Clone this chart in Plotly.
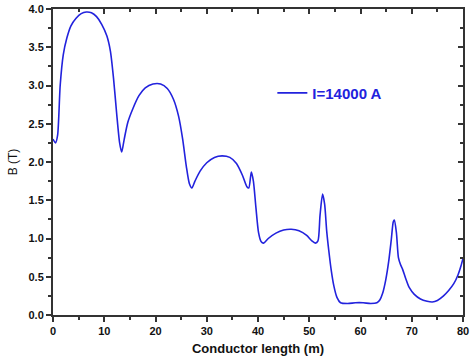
import plotly.graph_objects as go

length_m = [0, 0.5, 0.9, 1.4, 2.0, 2.7, 3.5, 4.5, 5.5, 6.5, 7.5, 8.5, 9.5, 10.5, 11.2, 11.8, 12.4, 13.0, 13.4, 13.9,
            14.6, 15.6, 16.8, 18.0, 19.5, 21.0, 22.3, 23.5, 24.5, 25.3, 26.0, 26.6, 27.1, 27.7, 28.7, 30.0, 31.5, 33.0,
            34.5, 35.8, 37.0, 37.8, 38.2, 38.7, 39.1, 39.6, 40.1, 40.6, 41.1, 42.0, 43.5, 45.0, 46.5, 48.0, 49.5, 50.5,
            51.2, 51.7, 52.1, 52.6, 53.0, 53.4, 53.8, 54.3, 54.8, 55.4, 56.1, 57.5, 59.0, 60.5, 62.0, 63.2, 63.8, 64.3,
            64.9, 65.5, 66.0, 66.4, 66.6, 67.0, 67.4, 67.8, 68.2, 68.8, 69.5, 70.5, 71.7, 73.0, 74.0, 75.0, 76.2, 77.2,
            78.2, 79.0, 79.6, 80.0]
b_tesla = [2.30, 2.25, 2.35, 3.00, 3.40, 3.62, 3.78, 3.88, 3.94, 3.96, 3.95, 3.90, 3.80, 3.65, 3.45, 3.10, 2.65, 2.25,
           2.13, 2.30, 2.52, 2.70, 2.87, 2.97, 3.02, 3.02, 2.96, 2.82, 2.60, 2.30, 1.95, 1.72, 1.66, 1.75, 1.88, 1.99,
           2.06, 2.08, 2.06, 1.98, 1.82, 1.68, 1.66, 1.87, 1.75, 1.40, 1.08, 0.96, 0.94, 1.00, 1.07, 1.11, 1.12, 1.10,
           1.04, 0.97, 0.94, 0.97, 1.30, 1.58, 1.45, 1.10, 0.85, 0.58, 0.38, 0.23, 0.16, 0.15, 0.16, 0.16, 0.15, 0.16,
           0.20, 0.28, 0.45, 0.70, 0.98, 1.22, 1.24, 1.08, 0.75, 0.66, 0.60, 0.48, 0.36, 0.27, 0.21, 0.18, 0.17, 0.19,
           0.25, 0.32, 0.41, 0.52, 0.64, 0.74]
series_name = "I=14000 A"

x_range = [0, 80]
y_range = [0, 4.0]

fig = go.Figure()
fig.add_trace(go.Scatter(x=length_m, y=b_tesla, mode="lines", name=series_name,
                         line=dict(color="#2222dd", width=1.6, shape="spline", smoothing=0.7)))
# invisible trace to hold the mirrored (top/right) axes
fig.add_trace(go.Scatter(x=x_range, y=y_range, xaxis="x2", yaxis="y2", mode="lines",
                         line=dict(width=0), showlegend=False, hoverinfo="skip"))

tickfont = dict(family="Arial", size=11, color="#111", weight="bold")
axcol = "#333"

fig.update_layout(
    width=471, height=360,
    margin=dict(l=53, r=8, t=9, b=45, autoexpand=False),
    paper_bgcolor="white", plot_bgcolor="white",
    showlegend=True,
    legend=dict(x=0.535, y=0.725, xanchor="left", yanchor="middle", bgcolor="rgba(0,0,0,0)",
                font=dict(family="Arial", size=15, color="#2222dd", weight="bold")),
    xaxis=dict(range=x_range, dtick=10, tick0=0, showgrid=False, zeroline=False, automargin=False,
               showline=True, linecolor=axcol, linewidth=2, ticks="outside", ticklen=5, tickwidth=2,
               tickcolor=axcol, tickfont=tickfont,
               minor=dict(ticks="outside", ticklen=3, tickwidth=1.5, dtick=5, tickcolor=axcol),
               title=dict(text="Conductor length (m)", font=dict(family="Arial", size=13, color="#111", weight="bold"),
                          standoff=8)),
    yaxis=dict(range=y_range, dtick=0.5, tick0=0, tickformat=".1f", showgrid=False, zeroline=False, automargin=False,
               showline=True, linecolor=axcol, linewidth=2, ticks="outside", ticklen=5, tickwidth=2,
               tickcolor=axcol, tickfont=tickfont,
               minor=dict(ticks="outside", ticklen=3, tickwidth=1.5, dtick=0.25, tickcolor=axcol),
               title=dict(text="B (T)", font=dict(family="Arial", size=12, color="#111"), standoff=8)),
    xaxis2=dict(range=x_range, overlaying="x", side="top", dtick=10, tick0=0, showgrid=False, zeroline=False,
                automargin=False,
                showline=True, linecolor=axcol, linewidth=2, ticks="inside", ticklen=5, tickwidth=2,
                tickcolor=axcol, showticklabels=False,
                minor=dict(ticks="inside", ticklen=3, tickwidth=1.5, dtick=5, tickcolor=axcol)),
    yaxis2=dict(range=y_range, overlaying="y", side="right", dtick=0.5, tick0=0, showgrid=False, zeroline=False,
                automargin=False,
                showline=True, linecolor=axcol, linewidth=2, ticks="inside", ticklen=5, tickwidth=2,
                tickcolor=axcol, showticklabels=False,
                minor=dict(ticks="inside", ticklen=3, tickwidth=1.5, dtick=0.25, tickcolor=axcol)),
)

fig.write_html("out.html", config={"displayModeBar": False},
               post_script="document.body.style.margin='0';document.body.style.padding='0';")
